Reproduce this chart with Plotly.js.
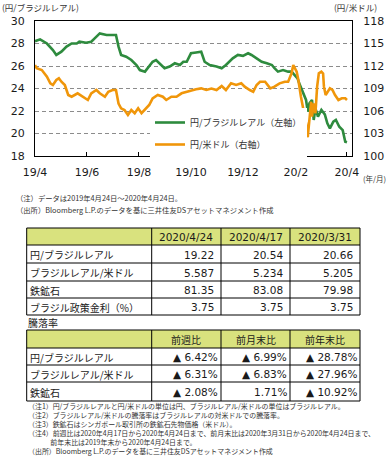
<!DOCTYPE html>
<html>
<head>
<meta charset="utf-8">
<script src="https://cdn.plot.ly/plotly-3.0.1.min.js"></script>
<style>
html,body{margin:0;padding:0;background:#fff;}
#chart{width:389px;height:465px;}
</style>
</head>
<body>
<div id="chart"></div>
<script>
// ---- line chart data ----
const brlDates = ['2019-04-24','2019-04-30','2019-05-08','2019-05-15','2019-05-19','2019-05-25','2019-05-31','2019-06-06','2019-06-12','2019-06-15','2019-06-23','2019-06-29','2019-07-03','2019-07-09','2019-07-17','2019-07-24','2019-07-28','2019-07-31','2019-08-03','2019-08-09','2019-08-15','2019-08-21','2019-08-25','2019-08-31','2019-09-03','2019-09-09','2019-09-13','2019-09-17','2019-09-23','2019-09-29','2019-10-05','2019-10-11','2019-10-15','2019-10-19','2019-10-24','2019-10-30','2019-11-05','2019-11-09','2019-11-15','2019-11-23','2019-11-29','2019-12-04','2019-12-12','2019-12-18','2019-12-24','2019-12-30','2020-01-03','2020-01-09','2020-01-15','2020-01-21','2020-01-27','2020-01-30','2020-02-03','2020-02-09','2020-02-15','2020-02-19','2020-02-23','2020-02-26','2020-02-28','2020-03-03','2020-03-07','2020-03-09','2020-03-11','2020-03-14','2020-03-16','2020-03-18','2020-03-21','2020-03-25','2020-03-29','2020-04-01','2020-04-04','2020-04-08','2020-04-11','2020-04-15','2020-04-19','2020-04-22','2020-04-24'];
const brlValues = [28.20,28.37,28.00,27.42,26.98,27.27,27.72,28.00,28.00,28.16,28.07,28.16,28.46,28.90,28.76,28.80,28.76,27.72,26.98,26.83,26.53,26.09,25.64,25.50,25.80,26.38,26.53,26.24,25.80,25.95,26.24,26.09,26.38,26.38,27.13,27.20,27.27,26.38,26.09,25.95,25.80,26.09,26.68,26.98,26.90,27.13,26.98,26.68,26.38,26.24,26.09,25.80,25.50,25.64,25.50,25.50,25.20,24.90,24.46,23.70,22.98,21.94,22.68,22.98,21.20,22.24,21.50,22.09,21.70,20.90,20.46,21.05,21.20,20.60,20.30,19.27,19.22];

const usdDates = ['2019-04-24','2019-04-26','2019-05-02','2019-05-08','2019-05-12','2019-05-15','2019-05-19','2019-05-22','2019-05-25','2019-05-29','2019-06-02','2019-06-06','2019-06-13','2019-06-19','2019-06-25','2019-06-29','2019-07-05','2019-07-09','2019-07-15','2019-07-19','2019-07-24','2019-07-28','2019-07-31','2019-08-03','2019-08-07','2019-08-11','2019-08-15','2019-08-19','2019-08-23','2019-08-27','2019-09-02','2019-09-05','2019-09-09','2019-09-15','2019-09-21','2019-09-25','2019-10-01','2019-10-07','2019-10-13','2019-10-19','2019-10-26','2019-10-30','2019-11-05','2019-11-11','2019-11-17','2019-11-23','2019-11-29','2019-12-04','2019-12-10','2019-12-16','2019-12-22','2019-12-26','2020-01-01','2020-01-05','2020-01-09','2020-01-13','2020-01-19','2020-01-25','2020-01-30','2020-02-05','2020-02-11','2020-02-15','2020-02-19','2020-02-21','2020-02-25','2020-02-27','2020-03-01','2020-03-05','2020-03-07','2020-03-09','2020-03-11','2020-03-13','2020-03-14','2020-03-16','2020-03-18','2020-03-20','2020-03-22','2020-03-25','2020-03-27','2020-03-28','2020-03-30','2020-04-02','2020-04-04','2020-04-07','2020-04-10','2020-04-14','2020-04-18','2020-04-22','2020-04-24'];
const usdValues = [112.13,111.70,111.47,110.58,109.70,109.47,110.13,110.36,109.90,109.47,108.13,107.90,108.36,107.90,107.47,108.36,108.80,108.36,107.90,108.57,108.80,108.80,107.00,106.36,106.13,105.47,106.13,105.70,106.36,105.70,106.36,106.80,107.69,108.13,107.90,107.47,107.90,107.90,108.36,108.57,108.80,108.89,109.02,108.80,109.00,108.80,109.33,108.80,109.69,109.47,109.69,109.24,108.80,108.57,109.47,109.90,109.90,109.02,109.24,109.69,109.90,109.90,111.02,112.13,111.24,110.13,107.90,105.69,104.36,102.50,104.80,107.24,105.24,107.02,105.69,109.24,111.02,111.24,111.00,109.24,108.13,108.57,109.02,108.80,108.13,107.47,107.69,107.69,107.47];

const brlName = '円/ブラジルレアル（左軸）';
const usdName = '円/米ドル（右軸）';
const xTickVals = ['2019-04-24','2019-06-24','2019-08-24','2019-10-24','2019-12-24','2020-02-24','2020-04-24'];
const xTickText = ['19/4','19/6','19/8','19/10','19/12','20/2','20/4'];

// ---- table 1 data ----
const t1Dates = ['2020/4/24','2020/4/17','2020/3/31'];
const t1Labels = ['円/ブラジルレアル','ブラジルレアル/米ドル','鉄鉱石','ブラジル政策金利（%）'];
const t1Col1 = [19.22, 5.587, 81.35, 3.75];
const t1Col2 = [20.54, 5.234, 83.08, 3.75];
const t1Col3 = [20.66, 5.205, 79.98, 3.75];
const t1Decimals = [2, 3, 2, 2];

// ---- table 2 data (negative = ▲) ----
const t2Title = '騰落率';
const t2Heads = ['前週比','前月末比','前年末比'];
const t2Labels = ['円/ブラジルレアル','ブラジルレアル/米ドル','鉄鉱石'];
const t2Week = [-6.42, -6.31, -2.08];
const t2Month = [-6.99, -6.83, 1.71];
const t2Year = [-28.78, -27.96, -10.92];

// ---- notes ----
const noteTop = ['（注）データは2019年4月24日～2020年4月24日。','（出所）Bloomberg L.P.のデータを基に三井住友DSアセットマネジメント作成'];
const noteBottom = ['（注1）円/ブラジルレアルと円/米ドルの単位は円、ブラジルレアル/米ドルの単位はブラジルレアル。',
 '（注2）ブラジルレアル/米ドルの騰落率はブラジルレアルの対米ドルでの騰落率。',
 '（注3）鉄鉱石はシンガポール取引所の鉄鉱石先物価格（米ドル）。',
 '（注4）前週比は2020年4月17日から2020年4月24日まで、前月末比は2020年3月31日から2020年4月24日まで、',
 '\u3000\u3000\u3000\u00a0前年末比は2019年末から2020年4月24日まで。',
 '（出所）Bloomberg L.P.のデータを基に三井住友DSアセットマネジメント作成'];

const W = 389, H = 465;
const px = x => x / W;
const py = y => 1 - y / H;
const JP = 'Noto Sans CJK JP';
const NUM = 'DejaVu Sans';
const HEADFILL = '#d9e27e';
const INK = '#1a1a1a';

const fmt1 = (arr) => arr.map((v, i) => v.toFixed(t1Decimals[i]));
const fmt2 = (arr) => arr.map(v => (v < 0 ? '▲ ' : '') + Math.abs(v).toFixed(2) + '%');

const traces = [
  {type:'scatter', mode:'lines', x: brlDates, y: brlValues, name: brlName, yaxis:'y',
   line:{color:'#2e8b3e', width:2.6}, legendgroup:'a'},
  {type:'scatter', mode:'lines', x: usdDates, y: usdValues, name: usdName, yaxis:'y2',
   line:{color:'#f0960a', width:2.6}, legendgroup:'b'}
];

const ann = [];
const shapes = [];
const txt = (x, y, text, size, anchor, family, color) => ann.push({xref:'paper', yref:'paper', x:px(x), y:py(y), text:text,
  showarrow:false, xanchor:anchor || 'left', yanchor:'middle', borderpad:0, borderwidth:0,
  font:{family:family || JP, size:size, color:color || '#333'}});

// table builder: shapes for cells, annotations for text
function buildTable(colEdges, rowEdges, heads, headFamily, headSize, labels, cols, padR) {
  const xL = colEdges[0], xR = colEdges[colEdges.length - 1];
  const yT = rowEdges[0], yB = rowEdges[rowEdges.length - 1];
  shapes.push({type:'rect', xref:'paper', yref:'paper', x0:px(xL), x1:px(xR), y0:py(rowEdges[1]), y1:py(yT),
    fillcolor:HEADFILL, line:{width:0}, layer:'below'});
  rowEdges.forEach(r => shapes.push({type:'line', xref:'paper', yref:'paper', x0:px(xL), x1:px(xR), y0:py(r), y1:py(r),
    line:{color:'#000', width:1}}));
  colEdges.forEach(c => shapes.push({type:'line', xref:'paper', yref:'paper', x0:px(c), x1:px(c), y0:py(yB), y1:py(yT),
    line:{color:'#000', width:1}}));
  const midH = (rowEdges[0] + rowEdges[1]) / 2;
  heads.forEach((h, i) => txt((colEdges[i + 1] + colEdges[i + 2]) / 2, midH + 0.5, h, headSize, 'center', headFamily, INK));
  labels.forEach((l, r) => {
    const ym = (rowEdges[r + 1] + rowEdges[r + 2]) / 2 + 0.5;
    txt(xL + 3, ym, l, 10, 'left', JP, INK);
    cols.forEach((col, c) => txt(colEdges[c + 2] - padR, ym, col[r], 10.5, 'right', NUM, INK));
  });
}

const colEdges = [26.7, 151.7, 221, 290, 360];
buildTable(colEdges, [228, 245, 263, 281, 298, 315], t1Dates, NUM, 10.5, t1Labels,
  [fmt1(t1Col1), fmt1(t1Col2), fmt1(t1Col3)], 7.5);
buildTable(colEdges, [330, 348, 365, 382, 401], t2Heads, JP, 10, t2Labels,
  [fmt2(t2Week), fmt2(t2Month), fmt2(t2Year)], 3);

txt(2, 7, '(円/ブラジルレアル)', 8.5);
txt(334, 7, '(円/米ドル)', 8.5);
txt(363, 178, '(年/月)', 7.5);
txt(16, 198, noteTop[0], 7.3);
txt(16, 210, noteTop[1], 7.3);
txt(28, 322, t2Title, 10, 'left', JP, INK);
ann.push({xref:'paper', yref:'paper', x:px(28), y:py(400.5), text:noteBottom.join('<br>'), align:'left',
  showarrow:false, xanchor:'left', yanchor:'top', borderpad:0, borderwidth:0,
  font:{family:JP, size:6.95, color:'#333'}});

const layout = {
  width: W, height: H,
  margin:{l:0, r:0, t:0, b:0},
  paper_bgcolor:'#fff', plot_bgcolor:'#fff',
  showlegend:true,
  legend:{x:px(150), y:py(108), xanchor:'left', yanchor:'top', bgcolor:'#fff', borderwidth:0,
    font:{family:JP, size:9, color:'#333'}, traceorder:'grouped', tracegroupgap:3, itemwidth:30},
  xaxis:{type:'date', domain:[px(35), px(352)], range:['2019-04-24','2020-04-29 22:00'],
    tickvals:xTickVals, ticktext:xTickText, ticks:'inside', ticklen:4, tickcolor:'#000',
    showline:true, mirror:true, linecolor:'#000', linewidth:1, showgrid:false, zeroline:false,
    tickfont:{family:NUM, size:11, color:INK}, ticklabelstandoff:6, anchor:'y'},
  yaxis:{domain:[py(156), py(21)], range:[18,30], tick0:18, dtick:2,
    showgrid:true, gridcolor:'#8c8c8c', griddash:'4px,3px', gridwidth:1,
    showline:true, linecolor:'#000', linewidth:1, zeroline:false, ticks:'',
    tickfont:{family:NUM, size:11, color:INK}, ticklabelstandoff:7, anchor:'x'},
  yaxis2:{overlaying:'y', side:'right', range:[100,118], tick0:100, dtick:3,
    showgrid:false, showline:true, linecolor:'#000', linewidth:1, zeroline:false, ticks:'',
    tickfont:{family:NUM, size:11, color:INK}, ticklabelstandoff:8, anchor:'x'},
  annotations: ann,
  shapes: shapes
};

Plotly.newPlot('chart', traces, layout, {displayModeBar:false, staticPlot:true});
</script>
</body>
</html>
